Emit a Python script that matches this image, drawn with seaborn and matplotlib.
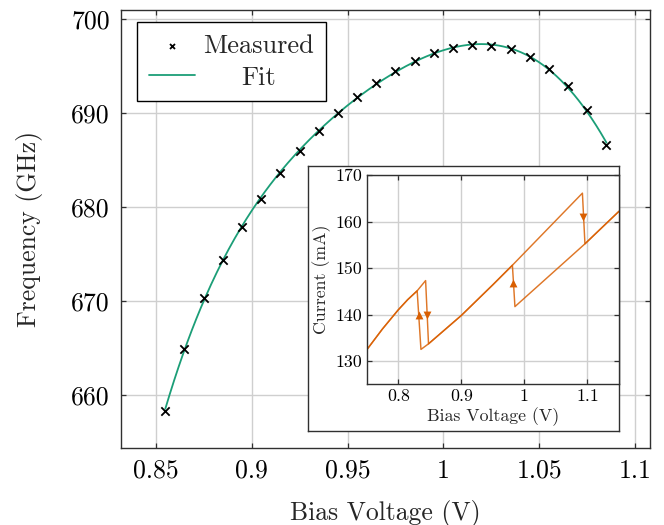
import numpy as np
import matplotlib
matplotlib.use("Agg")
import matplotlib.pyplot as plt
import seaborn as sns

# ---------------- data ----------------
bias_measured = [0.855, 0.865, 0.875, 0.885, 0.895, 0.905, 0.915, 0.925,
                 0.935, 0.945, 0.955, 0.965, 0.975, 0.985, 0.995, 1.005,
                 1.015, 1.025, 1.035, 1.045, 1.055, 1.065, 1.075, 1.085]
freq_measured = [658.33, 664.9, 670.32, 674.40, 677.84, 680.89, 683.6, 686.0,
                 688.12, 690.04, 691.67, 693.19, 694.47, 695.50, 696.38, 696.91,
                 697.2, 697.13, 696.77, 695.96, 694.65, 692.84, 690.32, 686.63]

# inset: I-V hysteresis sweeps
sweep_up_v = [0.75, 0.775, 0.80, 0.815, 0.830, 0.8434, 0.848, 0.90, 0.95,
              0.981, 1.092, 1.096, 1.15]
sweep_up_i = [132.4, 136.9, 141.0, 143.2, 145.1, 147.3, 133.7, 139.8, 146.4,
              150.6, 166.1, 155.2, 162.2]
sweep_down_v = [1.15, 1.096, 0.985, 0.981, 0.95, 0.90, 0.848, 0.836, 0.830,
                0.815, 0.80, 0.775, 0.75]
sweep_down_i = [162.2, 155.2, 141.7, 150.6, 146.4, 139.8, 133.7, 132.5, 145.1,
                143.2, 141.0, 136.9, 132.4]
arrow_up_v = [0.8323, 0.9825]
arrow_up_i = [140.0, 146.8]
arrow_down_v = [0.8452, 1.0935]
arrow_down_i = [139.8, 160.9]

main_xticks = [0.85, 0.9, 0.95, 1.0, 1.05, 1.1]
main_xticklabels = ["0.85", "0.9", "0.95", "1", "1.05", "1.1"]
main_yticks = [660, 670, 680, 690, 700]
main_yticklabels = ["660", "670", "680", "690", "700"]
inset_xticks = [0.8, 0.9, 1.0, 1.1]
inset_xticklabels = ["0.8", "0.9", "1", "1.1"]
inset_yticks = [130, 140, 150, 160, 170]
inset_yticklabels = ["130", "140", "150", "160", "170"]

GREEN = "#1b9e77"
ORANGE = "#d95f02"
GRID = "#cfcfcf"
SPINE = "#303030"

sns.set_style("white")
plt.rcParams["font.family"] = ["cmr10", "DejaVu Serif"]
plt.rcParams["mathtext.fontset"] = "cm"
plt.rcParams["axes.formatter.use_mathtext"] = True

fig = plt.figure(figsize=(6.64, 5.25), dpi=100)

def style_axes(ax, fs, pad):
    ax.grid(True, color=GRID, linewidth=1.0)
    ax.set_axisbelow(True)
    for s in ax.spines.values():
        s.set_visible(True)
        s.set_color(SPINE)
        s.set_linewidth(1.0)
    ax.tick_params(direction="in", length=3.5, width=0.9, color=SPINE,
                   top=True, right=True, bottom=True, left=True,
                   labelsize=fs, pad=pad, labelcolor="black")

# ---------------- main axes ----------------
ax = fig.add_axes([0.18223, 0.14667, 0.79669, 0.83429])
style_axes(ax, 18.5, 8)

coef = np.polyfit(bias_measured, freq_measured, 5)
fit_v = np.linspace(min(bias_measured), max(bias_measured), 300)
fit_f = np.polyval(coef, fit_v)

sns.scatterplot(x=bias_measured, y=freq_measured, marker="x", color="black",
                s=36, linewidth=1.3, ax=ax, label="Measured", zorder=3)
sns.lineplot(x=fit_v, y=fit_f, color=GREEN, linewidth=1.3, ax=ax,
             label="Fit", zorder=2)

ax.set_xlim(0.8319, 1.1077)
ax.set_ylim(654.36, 700.96)
ax.set_xticks(main_xticks, main_xticklabels)
ax.set_yticks(main_yticks, main_yticklabels)
ax.set_xlabel("Bias Voltage (V)", fontsize=18.5, labelpad=12)
ax.set_ylabel("Frequency (GHz)", fontsize=18.5, labelpad=20)

leg = ax.legend(loc="upper left", bbox_to_anchor=(0.031, 0.972),
                borderaxespad=0, fontsize=19, frameon=True, fancybox=False,
                framealpha=1, edgecolor="black", markerscale=0.6,
                handlelength=1.75, handletextpad=0.3, borderpad=0.45,
                labelspacing=0.3)
leg.get_frame().set_linewidth(1.0)

# ---------------- inset ----------------
box = fig.add_axes([0.46431, 0.17905, 0.46792, 0.50533], zorder=5)
box.set_xticks([])
box.set_yticks([])
box.set_facecolor("white")
for s in box.spines.values():
    s.set_visible(True)
    s.set_color(SPINE)
    s.set_linewidth(1.0)

ins = fig.add_axes([0.55226, 0.268, 0.37997, 0.39867], zorder=6)
style_axes(ins, 12.8, 3.5)
sns.lineplot(x=sweep_up_v, y=sweep_up_i, sort=False, estimator=None,
             color=ORANGE, linewidth=1.05, alpha=0.85, ax=ins)
sns.lineplot(x=sweep_down_v, y=sweep_down_i, sort=False, estimator=None,
             color=ORANGE, linewidth=1.05, alpha=0.85, ax=ins)
sns.scatterplot(x=arrow_up_v, y=arrow_up_i, marker="^", color=ORANGE,
                s=32, linewidth=0, ax=ins, zorder=4)
sns.scatterplot(x=arrow_down_v, y=arrow_down_i, marker="v", color=ORANGE,
                s=32, linewidth=0, ax=ins, zorder=4)
ins.set_xlim(0.75, 1.15)
ins.set_ylim(125, 170)
ins.set_xticks(inset_xticks, inset_xticklabels)
ins.set_yticks(inset_yticks, inset_yticklabels)
ins.set_xlabel("Bias Voltage (V)", fontsize=12.8, labelpad=2)
ins.set_ylabel("Current (mA)", fontsize=12.8, labelpad=3)

# centre legend labels within their column (as in the reference)
fig.canvas.draw()
texts = leg.get_texts()
widths = [t.get_window_extent().width for t in texts]
wmax = max(widths)
for t, w in zip(texts, widths):
    t.set_x((wmax - w) / 2.0)

fig.savefig("out.png", dpi=100)
